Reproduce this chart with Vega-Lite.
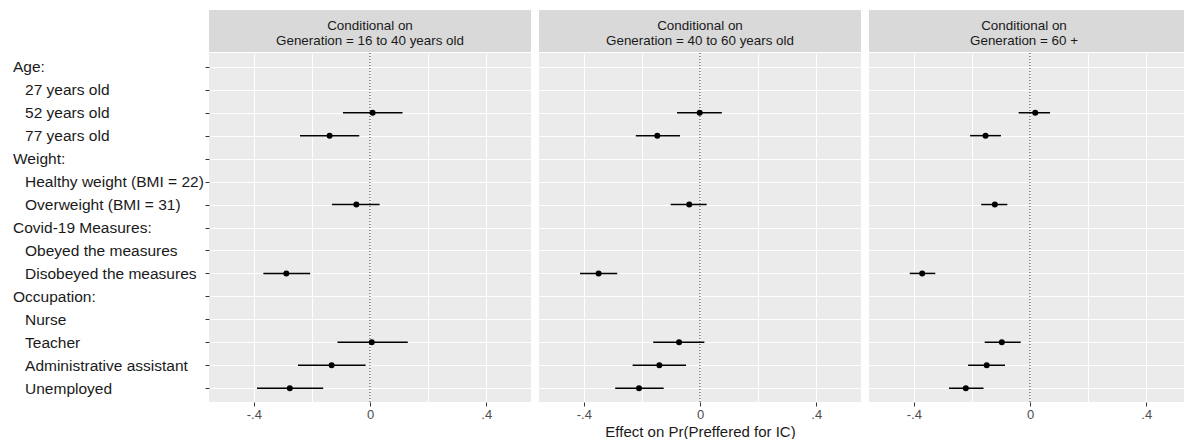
{
  "$schema": "https://vega.github.io/schema/vega-lite/v6.json",
  "background": "white",
  "padding": {"left": 12, "top": 10, "right": 0, "bottom": 0},
  "autosize": {"type": "pad"},
  "datasets": {
    "strips": [
      {"gen": "16 to 40", "label": "Conditional on\nGeneration = 16 to 40 years old"},
      {"gen": "40 to 60", "label": "Conditional on\nGeneration = 40 to 60 years old"},
      {"gen": "60 +", "label": "Conditional on\nGeneration = 60 +"}
    ],
    "est": [
      {"gen": "16 to 40", "term": "52 years old", "est": 0.009, "lo": -0.093, "hi": 0.112},
      {"gen": "16 to 40", "term": "77 years old", "est": -0.139, "lo": -0.241, "hi": -0.037},
      {"gen": "16 to 40", "term": "Overweight (BMI = 31)", "est": -0.047, "lo": -0.131, "hi": 0.033},
      {"gen": "16 to 40", "term": "Disobeyed the measures", "est": -0.288, "lo": -0.367, "hi": -0.206},
      {"gen": "16 to 40", "term": "Teacher", "est": 0.006, "lo": -0.112, "hi": 0.130},
      {"gen": "16 to 40", "term": "Administrative assistant", "est": -0.132, "lo": -0.248, "hi": -0.015},
      {"gen": "16 to 40", "term": "Unemployed", "est": -0.276, "lo": -0.389, "hi": -0.161},
      {"gen": "40 to 60", "term": "52 years old", "est": -0.001, "lo": -0.079, "hi": 0.075},
      {"gen": "40 to 60", "term": "77 years old", "est": -0.147, "lo": -0.221, "hi": -0.069},
      {"gen": "40 to 60", "term": "Overweight (BMI = 31)", "est": -0.037, "lo": -0.101, "hi": 0.023},
      {"gen": "40 to 60", "term": "Disobeyed the measures", "est": -0.349, "lo": -0.413, "hi": -0.285},
      {"gen": "40 to 60", "term": "Teacher", "est": -0.072, "lo": -0.161, "hi": 0.015},
      {"gen": "40 to 60", "term": "Administrative assistant", "est": -0.140, "lo": -0.232, "hi": -0.048},
      {"gen": "40 to 60", "term": "Unemployed", "est": -0.210, "lo": -0.292, "hi": -0.125},
      {"gen": "60 +", "term": "52 years old", "est": 0.018, "lo": -0.039, "hi": 0.069},
      {"gen": "60 +", "term": "77 years old", "est": -0.153, "lo": -0.206, "hi": -0.100},
      {"gen": "60 +", "term": "Overweight (BMI = 31)", "est": -0.121, "lo": -0.168, "hi": -0.078},
      {"gen": "60 +", "term": "Disobeyed the measures", "est": -0.371, "lo": -0.414, "hi": -0.326},
      {"gen": "60 +", "term": "Teacher", "est": -0.097, "lo": -0.156, "hi": -0.032},
      {"gen": "60 +", "term": "Administrative assistant", "est": -0.149, "lo": -0.213, "hi": -0.086},
      {"gen": "60 +", "term": "Unemployed", "est": -0.221, "lo": -0.279, "hi": -0.160}
    ]
  },
  "config": {
    "view": {"stroke": null},
    "font": "Liberation Sans",
    "axis": {"gridColor": "white", "gridWidth": 1, "gridOpacity": 1, "domain": false, "tickColor": "#333333", "tickSize": 4, "labelFont": "Liberation Sans", "titleFont": "Liberation Sans", "titleFontWeight": "normal"},
    "concat": {"spacing": 8}
  },
  "spacing": 8,
  "hconcat": [
    {
      "spacing": 0,
      "vconcat": [
        {
          "width": 322, "height": 42,
          "view": {"fill": "#d9d9d9", "stroke": null},
          "data": {"name": "strips"},
          "transform": [{"filter": "datum.gen === '16 to 40'"}],
          "mark": {"type": "text", "lineBreak": "\n", "fontSize": 13.4, "lineHeight": 14.7, "dy": -5, "color": "#1a1a1a", "font": "Liberation Sans"},
          "encoding": {"text": {"field": "label", "type": "nominal"}}
        },
        {
          "width": 322, "height": 349,
          "view": {"fill": "#ebebeb", "stroke": null},
          "layer": [
            {
              "data": {"values": [{"ref": 0}]},
              "mark": {"type": "rule", "color": "#333333", "strokeWidth": 1, "strokeDash": [1, 2]},
              "encoding": {"x": {"field": "ref", "type": "quantitative", "scale": {"domain": [-0.5542, 0.5542], "nice": false, "zero": false}, "axis": null}}
            },
            {
              "data": {"name": "est"},
              "transform": [{"filter": "datum.gen === '16 to 40'"}],
              "mark": {"type": "rule", "color": "black", "strokeWidth": 1.5},
              "encoding": {
                "x": {"field": "lo", "type": "quantitative", "scale": {"domain": [-0.5542, 0.5542], "nice": false, "zero": false},
                  "axis": {"orient": "bottom", "values": [-0.4, -0.2, 0, 0.2, 0.4], "grid": true, "labels": false, "ticks": false, "title": null}},
                "x2": {"field": "hi"},
                "y": {"field": "term", "type": "nominal",
                  "scale": {"type": "point", "padding": 0.6, "domain": ["Age:", "27 years old", "52 years old", "77 years old", "Weight:", "Healthy weight (BMI = 22)", "Overweight (BMI = 31)", "Covid-19 Measures:", "Obeyed the measures", "Disobeyed the measures", "Occupation:", "Nurse", "Teacher", "Administrative assistant", "Unemployed"]},
                  "axis": null}
              }
            },
            {
              "data": {"name": "est"},
              "transform": [{"filter": "datum.gen === '16 to 40'"}],
              "mark": {"type": "point", "filled": true, "shape": "circle", "size": 36, "color": "black", "opacity": 1},
              "encoding": {
                "x": {"field": "est", "type": "quantitative", "scale": {"domain": [-0.5542, 0.5542], "nice": false, "zero": false},
                  "axis": {"orient": "bottom", "values": [-0.4, 0, 0.4], "grid": false, "ticks": true, "labelFontSize": 13, "labelColor": "#4d4d4d", "labelPadding": 2, "title": null,
                    "labelExpr": "datum.value == 0 ? '0' : (datum.value < 0 ? '-' : '') + substring(format(abs(datum.value), '.1f'), 1)"}},
                "y": {"field": "term", "type": "nominal",
                  "scale": {"type": "point", "padding": 0.6, "domain": ["Age:", "27 years old", "52 years old", "77 years old", "Weight:", "Healthy weight (BMI = 22)", "Overweight (BMI = 31)", "Covid-19 Measures:", "Obeyed the measures", "Disobeyed the measures", "Occupation:", "Nurse", "Teacher", "Administrative assistant", "Unemployed"]},
                  "axis": {"orient": "left", "title": null, "grid": true, "ticks": true, "tickSize": 4, "labelAlign": "left", "labelPadding": 192.5, "labelLimit": 0, "labelFontSize": 15.5, "labelColor": "#1a1a1a",
                    "labelExpr": "indexof(datum.value, ':') > 0 ? datum.value : '\u200b\u2002\u00a0' + datum.value"}}
              }
            }
          ],
          "resolve": {"axis": {"x": "independent", "y": "independent"}}
        }
      ]
    },
    {
      "spacing": 0,
      "vconcat": [
        {
          "width": 322, "height": 42,
          "view": {"fill": "#d9d9d9", "stroke": null},
          "data": {"name": "strips"},
          "transform": [{"filter": "datum.gen === '40 to 60'"}],
          "mark": {"type": "text", "lineBreak": "\n", "fontSize": 13.4, "lineHeight": 14.7, "dy": -5, "color": "#1a1a1a", "font": "Liberation Sans"},
          "encoding": {"text": {"field": "label", "type": "nominal"}}
        },
        {
          "width": 322, "height": 349,
          "view": {"fill": "#ebebeb", "stroke": null},
          "encoding": {
            "y": {"field": "term", "type": "nominal",
              "scale": {"type": "point", "padding": 0.6, "domain": ["Age:", "27 years old", "52 years old", "77 years old", "Weight:", "Healthy weight (BMI = 22)", "Overweight (BMI = 31)", "Covid-19 Measures:", "Obeyed the measures", "Disobeyed the measures", "Occupation:", "Nurse", "Teacher", "Administrative assistant", "Unemployed"]},
              "axis": {"title": null, "grid": true, "ticks": false, "labels": false}}
          },
          "layer": [
            {
              "data": {"values": [{"ref": 0}]},
              "mark": {"type": "rule", "color": "#333333", "strokeWidth": 1, "strokeDash": [1, 2]},
              "encoding": {"x": {"field": "ref", "type": "quantitative", "scale": {"domain": [-0.5542, 0.5542], "nice": false, "zero": false}, "axis": null}, "y": null}
            },
            {
              "data": {"name": "est"},
              "transform": [{"filter": "datum.gen === '40 to 60'"}],
              "mark": {"type": "rule", "color": "black", "strokeWidth": 1.5},
              "encoding": {
                "x": {"field": "lo", "type": "quantitative", "scale": {"domain": [-0.5542, 0.5542], "nice": false, "zero": false},
                  "axis": {"orient": "bottom", "values": [-0.4, -0.2, 0, 0.2, 0.4], "grid": true, "labels": false, "ticks": false, "title": null}},
                "x2": {"field": "hi"}
              }
            },
            {
              "data": {"name": "est"},
              "transform": [{"filter": "datum.gen === '40 to 60'"}],
              "mark": {"type": "point", "filled": true, "shape": "circle", "size": 36, "color": "black", "opacity": 1},
              "encoding": {
                "x": {"field": "est", "type": "quantitative", "scale": {"domain": [-0.5542, 0.5542], "nice": false, "zero": false},
                  "axis": {"orient": "bottom", "values": [-0.4, 0, 0.4], "grid": false, "ticks": true, "labelFontSize": 13, "labelColor": "#4d4d4d", "labelPadding": 2,
                    "title": "Effect on Pr(Preffered for IC)", "titleFontSize": 15, "titleColor": "#1a1a1a", "titlePadding": 3,
                    "labelExpr": "datum.value == 0 ? '0' : (datum.value < 0 ? '-' : '') + substring(format(abs(datum.value), '.1f'), 1)"}}
              }
            }
          ],
          "resolve": {"axis": {"x": "independent"}}
        }
      ]
    },
    {
      "spacing": 0,
      "vconcat": [
        {
          "width": 316, "height": 42,
          "view": {"fill": "#d9d9d9", "stroke": null},
          "data": {"name": "strips"},
          "transform": [{"filter": "datum.gen === '60 +'"}],
          "mark": {"type": "text", "lineBreak": "\n", "fontSize": 13.4, "lineHeight": 14.7, "dy": -5, "color": "#1a1a1a", "font": "Liberation Sans", "dx": -3},
          "encoding": {"text": {"field": "label", "type": "nominal"}}
        },
        {
          "width": 316, "height": 349,
          "view": {"fill": "#ebebeb", "stroke": null},
          "encoding": {
            "y": {"field": "term", "type": "nominal",
              "scale": {"type": "point", "padding": 0.6, "domain": ["Age:", "27 years old", "52 years old", "77 years old", "Weight:", "Healthy weight (BMI = 22)", "Overweight (BMI = 31)", "Covid-19 Measures:", "Obeyed the measures", "Disobeyed the measures", "Occupation:", "Nurse", "Teacher", "Administrative assistant", "Unemployed"]},
              "axis": {"title": null, "grid": true, "ticks": false, "labels": false}}
          },
          "layer": [
            {
              "data": {"values": [{"ref": 0}]},
              "mark": {"type": "rule", "color": "#333333", "strokeWidth": 1, "strokeDash": [1, 2]},
              "encoding": {"x": {"field": "ref", "type": "quantitative", "scale": {"domain": [-0.5542, 0.5336], "nice": false, "zero": false}, "axis": null}, "y": null}
            },
            {
              "data": {"name": "est"},
              "transform": [{"filter": "datum.gen === '60 +'"}],
              "mark": {"type": "rule", "color": "black", "strokeWidth": 1.5},
              "encoding": {
                "x": {"field": "lo", "type": "quantitative", "scale": {"domain": [-0.5542, 0.5336], "nice": false, "zero": false},
                  "axis": {"orient": "bottom", "values": [-0.4, -0.2, 0, 0.2, 0.4], "grid": true, "labels": false, "ticks": false, "title": null}},
                "x2": {"field": "hi"}
              }
            },
            {
              "data": {"name": "est"},
              "transform": [{"filter": "datum.gen === '60 +'"}],
              "mark": {"type": "point", "filled": true, "shape": "circle", "size": 36, "color": "black", "opacity": 1},
              "encoding": {
                "x": {"field": "est", "type": "quantitative", "scale": {"domain": [-0.5542, 0.5336], "nice": false, "zero": false},
                  "axis": {"orient": "bottom", "values": [-0.4, 0, 0.4], "grid": false, "ticks": true, "labelFontSize": 13, "labelColor": "#4d4d4d", "labelPadding": 2, "title": null,
                    "labelExpr": "datum.value == 0 ? '0' : (datum.value < 0 ? '-' : '') + substring(format(abs(datum.value), '.1f'), 1)"}}
              }
            }
          ],
          "resolve": {"axis": {"x": "independent"}}
        }
      ]
    }
  ]
}
